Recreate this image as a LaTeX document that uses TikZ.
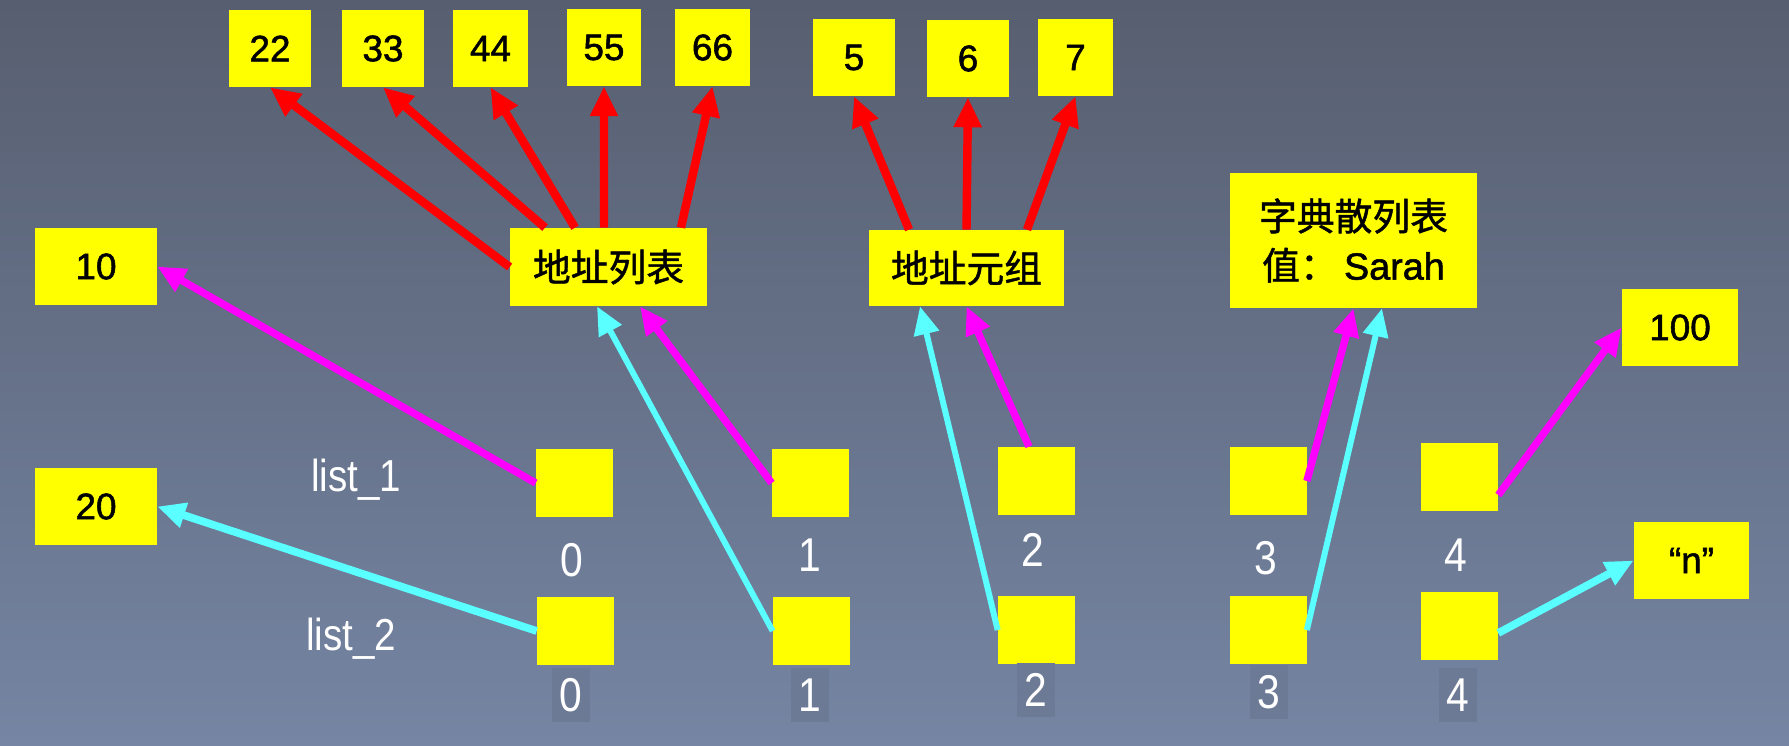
\documentclass[tikz,border=0pt]{standalone}
\usepackage{fontspec}
\setmainfont{Liberation Sans}
\newfontfamily\boxfont{Liberation Sans}[FakeBold=1.4]
\newfontfamily\cjk{Noto Sans CJK SC}[FakeBold=1.2]
\newfontfamily\thinfont{Liberation Sans}[FakeStretch=0.86]
\usetikzlibrary{arrows.meta}
\definecolor{bgtop}{RGB}{87,94,111}
\definecolor{bgbot}{RGB}{117,133,163}
\definecolor{boxyellow}{RGB}{255,255,0}
\definecolor{ptrred}{RGB}{255,0,0}
\definecolor{ptrpink}{RGB}{255,0,255}
\definecolor{aqua}{RGB}{90,255,255}
\definecolor{patch}{RGB}{109,122,150}

\begin{document}
\begin{tikzpicture}[x=0.02cm,y=-0.02cm,
		val/.style={fill=boxyellow,inner sep=0pt,minimum width=1.64cm,minimum height=1.54cm,font=\fontsize{21}{25}\boxfont},
		cell/.style={fill=boxyellow,inner sep=0pt,minimum width=1.54cm,minimum height=1.36cm},
		idx/.style={text=white,inner sep=0pt,font=\fontsize{27}{30}\thinfont},
		ref/.style={line width=4.8pt,ptrred,-{Triangle[length=17pt,width=15pt]}},
		p1/.style={line width=4.2pt,ptrpink,-{Triangle[length=16pt,width=14pt]}},
		p2/.style={line width=3.4pt,aqua,-{Triangle[length=16pt,width=14pt]}}]
	\shade[top color=bgtop,bottom color=bgbot] (0,0) rectangle (1789,746);
	%VALUES
	\node[val] (v22) at (270,48.5) {22};
	\node[val] (v33) at (383,48.5) {33};
	\node[val,minimum width=1.5cm] (v44) at (490.5,48.5) {44};
	\node[val,minimum width=1.48cm] (v55) at (604,47.5) {55};
	\node[val,minimum width=1.5cm] (v66) at (712.5,47.5) {66};
	\node[val] (v5) at (854,57.5) {5};
	\node[val] (v6) at (968,58.5) {6};
	\node[val,minimum width=1.5cm] (v7) at (1075.5,57.5) {7};
	\node[val,minimum width=2.44cm] (v10) at (96,266.5) {10};
	\node[val,minimum width=2.44cm] (v20) at (96,506.5) {20};
	\node[val,minimum width=2.32cm] (v100) at (1680,327.5) {100};
	\node[val,minimum width=2.3cm] (vn) at (1691.5,560.5) {“n”};
	%OBJECTS
	\node[val,minimum width=3.94cm,minimum height=1.56cm,font=\fontsize{21.5}{25}\cjk] (addrlist) at (608.5,267) {地址列表};
	\node[val,minimum width=3.9cm,minimum height=1.52cm,font=\fontsize{21.5}{25}\cjk] (addrtuple) at (966.5,268) {地址元组};
	\node[val,minimum width=4.94cm,minimum height=2.7cm,align=center,font=\fontsize{21.5}{28}\boxfont] (dict) at (1353.5,240.5) {{\cjk 字典散列表}\\{\cjk 值：}\,Sarah};
	%LIST_1 / LIST_2
	\node[idx,font=\fontsize{25.5}{28}\thinfont] (name1) at (356,480) {list\_1};
	\node[idx,font=\fontsize{25.5}{28}\thinfont] (name2) at (351,639) {list\_2};
	\node[cell] (a0) at (574.5,483) {};
	\node[cell] (a1) at (810.5,483) {};
	\node[cell] (a2) at (1036.5,481) {};
	\node[cell] (a3) at (1268,481) {};
	\node[cell] (a4) at (1459.5,477) {};
	\node[cell] (b0) at (575.5,631) {};
	\node[cell] (b1) at (811.5,631) {};
	\node[cell] (b2) at (1036.5,630) {};
	\node[cell] (b3) at (1268,630) {};
	\node[cell] (b4) at (1459.5,626) {};
	\node[idx] (i0) at (572,560) {0};
	\node[idx] (i1) at (810,555) {1};
	\node[idx] (i2) at (1033,550) {2};
	\node[idx] (i3) at (1266,558) {3};
	\node[idx] (i4) at (1456,555) {4};
	\node[idx,fill=patch,minimum width=0.76cm,minimum height=1.08cm] (j0) at (571,695) {0};
	\node[idx,fill=patch,minimum width=0.76cm,minimum height=1.08cm] (j1) at (810,695) {1};
	\node[idx,fill=patch,minimum width=0.76cm,minimum height=1.08cm] (j2) at (1036,690) {2};
	\node[idx,fill=patch,minimum width=0.76cm,minimum height=1.08cm] (j3) at (1269,692) {3};
	\node[idx,fill=patch,minimum width=0.76cm,minimum height=1.08cm] (j4) at (1458,695) {4};
	%LIST ITEMS
	\draw[ref] (addrlist.west) -- (v22.south);
	\draw[ref] ([xshift=-1.27cm]addrlist.north) -- (v33.south);
	\draw[ref] ([xshift=-0.67cm]addrlist.north) -- (v44.south);
	\draw[ref] ([xshift=-0.09cm]addrlist.north) -- (v55.south);
	\draw[ref] ([xshift=1.45cm]addrlist.north) -- (v66.south);
	%TUPLE ITEMS
	\draw[ref] ([xshift=-1.15cm]addrtuple.north) -- (v5.south);
	\draw[ref] (addrtuple.north) -- (v6.south);
	\draw[ref] ([xshift=1.21cm]addrtuple.north) -- (v7.south);
	%LIST_1
	\draw[p1] (a0.west) -- (v10.east);
	\draw[p1] (a1.west) -- ([xshift=0.63cm]addrlist.south);
	\draw[p1] ([xshift=-0.15cm]a2.north) -- (addrtuple.south);
	\draw[p1] (a3.east) -- (dict.south);
	\draw[p1] ([yshift=-0.36cm]a4.east) -- (v100.west);
	%LIST_2
	\draw[p2,line width=4.4pt] (b0.west) -- (v20.east);
	\draw[p2] (b1.west) -- ([xshift=-0.23cm]addrlist.south);
	\draw[p2] (b2.west) -- ([xshift=-0.93cm]addrtuple.south);
	\draw[p2] (b3.east) -- ([xshift=0.57cm]dict.south);
	\draw[p2,line width=4.4pt] ([yshift=-0.14cm]b4.east) -- (vn.west);
\end{tikzpicture}
\end{document}
